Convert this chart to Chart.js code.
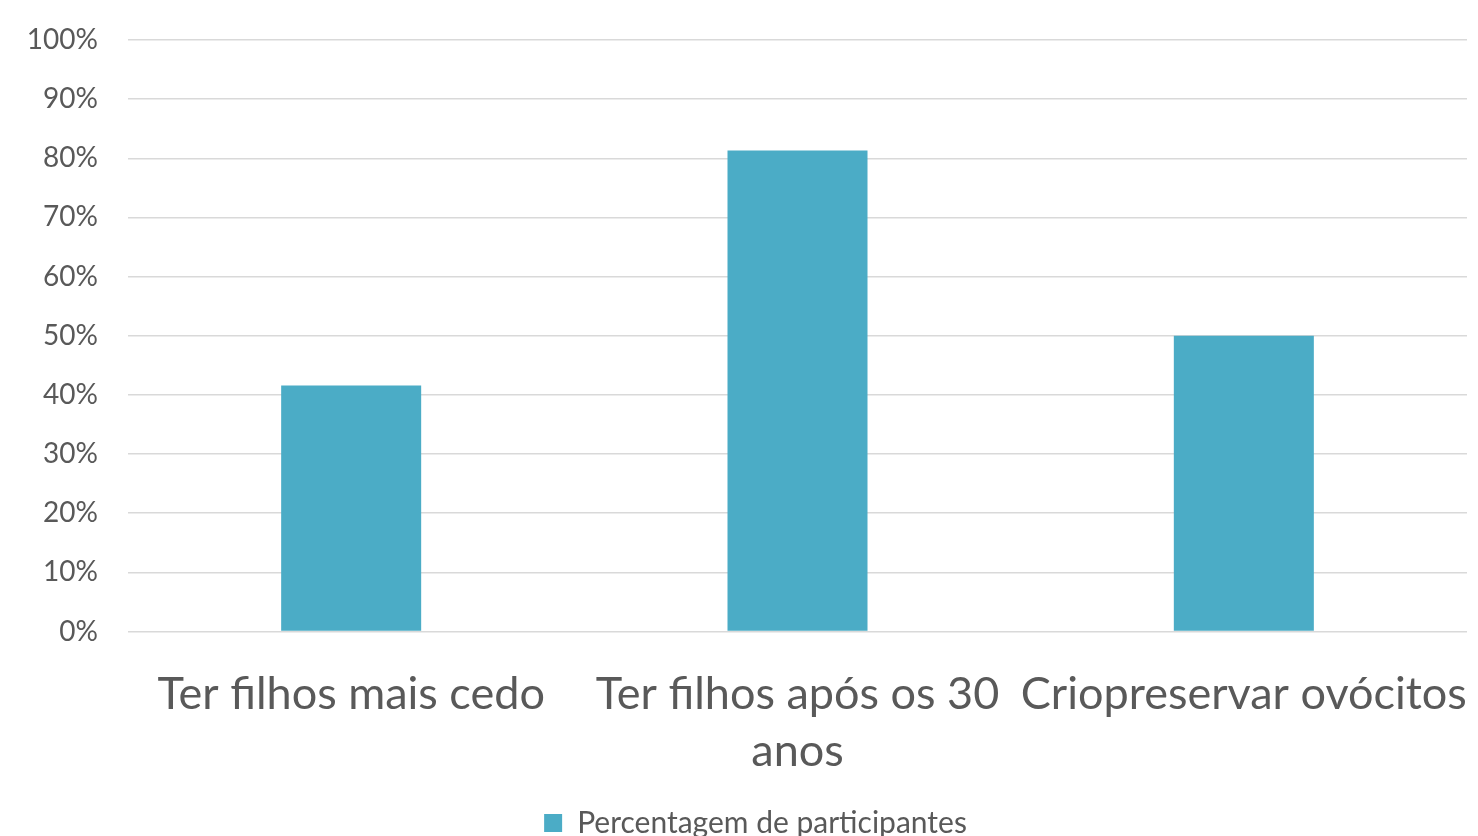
<!DOCTYPE html>
<html>
<head>
<meta charset="utf-8">
<script src="https://cdn.jsdelivr.net/npm/chart.js@4"></script>
<style>
html,body{margin:0;padding:0;background:#fff;overflow:hidden;}
#wrap{width:1478px;height:836px;overflow:hidden;}
</style>
</head>
<body>
<div id="wrap"><canvas id="c" width="1478" height="848"></canvas></div>
<script>
const categories = ["Ter filhos mais cedo", ["Ter filhos após os 30", "anos"], "Criopreservar ovócitos"];
const seriesName = "Percentagem de participantes";
const values = [41.6, 81.3, 50];
const yTicks = [0, 10, 20, 30, 40, 50, 60, 70, 80, 90, 100];

const textColor = "#595959";
const fontFamily = "Lato, 'Open Sans', sans-serif";

const legendShift = {
  id: "legendShift",
  afterLayout(chart) {
    if (chart.legend) { chart.legend.left = 44; }
  }
};

new Chart(document.getElementById("c"), {
  type: "bar",
  data: {
    labels: categories,
    datasets: [{
      label: seriesName,
      data: values,
      backgroundColor: "#4bacc6",
      borderWidth: 0,
      categoryPercentage: 1,
      barPercentage: 0.3137
    }]
  },
  plugins: [legendShift],
  options: {
    responsive: false,
    animation: false,
    layout: { padding: { top: 40, right: 11, left: 0, bottom: 0 } },
    plugins: {
      tooltip: { enabled: false },
      legend: {
        position: "bottom",
        labels: {
          color: textColor,
          font: { family: fontFamily, size: 30 },
          boxWidth: 18,
          boxHeight: 18,
          padding: 10
        }
      }
    },
    scales: {
      x: {
        grid: { display: false },
        border: { display: false },
        ticks: {
          color: textColor,
          font: { family: fontFamily, size: 45, lineHeight: 1.27 },
          maxRotation: 0,
          autoSkip: false,
          padding: 26
        },
        afterFit: (s) => { s.height = 166.5; s.paddingLeft = 0; s.paddingRight = 0; }
      },
      y: {
        min: 0,
        max: 100,
        afterBuildTicks: (s) => { s.ticks = yTicks.map(v => ({ value: v })); },
        grid: { color: "#d9d9d9", lineWidth: 1.5, drawTicks: false },
        border: { display: false },
        ticks: {
          color: textColor,
          font: { family: fontFamily, size: 28 },
          padding: 30,
          callback: (v) => v + "%"
        },
        afterFit: (s) => { s.width = 128; s.paddingTop = 0; s.paddingBottom = 0; }
      }
    }
  }
});
</script>
</body>
</html>
